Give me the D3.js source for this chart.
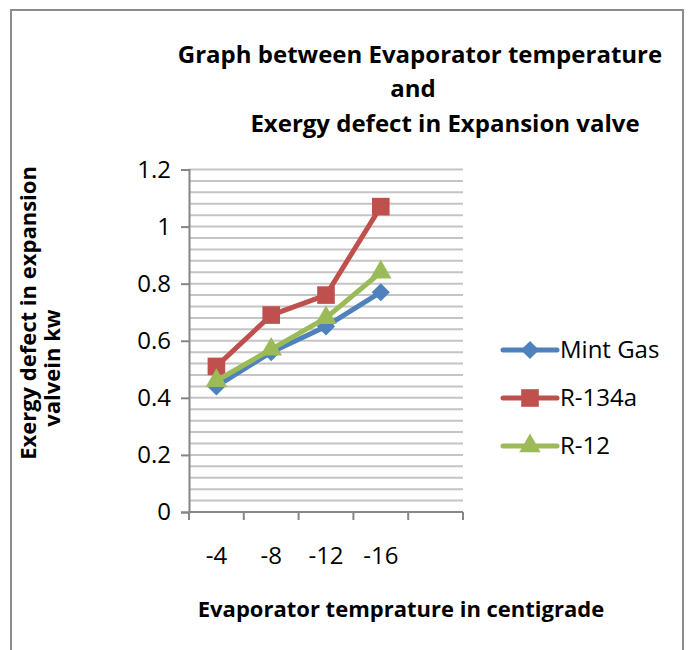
<!DOCTYPE html>
<html>
<head>
<meta charset="utf-8">
<script src="https://cdn.jsdelivr.net/npm/d3@7"></script>
<style>
  body { margin: 0; background: #fff; }
  text { font-family: "Open Sans", "Liberation Sans", sans-serif; fill: #000; }
</style>
</head>
<body>
<div id="chart"></div>
<script>
// chart data
const categories = ["-4", "-8", "-12", "-16", ""];
const seriesNames = ["Mint Gas", "R-134a", "R-12"];
const mintGas = [0.44, 0.56, 0.65, 0.77];
const r134a = [0.51, 0.69, 0.76, 1.07];
const r12 = [0.46, 0.57, 0.68, 0.84];
const yTicks = [0, 0.2, 0.4, 0.6, 0.8, 1, 1.2];

const colors = ["#4f81bd", "#c0504d", "#9bbb59"];
// diamond = square turned 45 degrees, like excel's marker
const markers = [
  { type: d3.symbolSquare, size: 165, rot: 45 },
  { type: d3.symbolSquare, size: 310, rot: 0 },
  { type: d3.symbolTriangle, size: 200, rot: 0 }
];

const W = 690, H = 650;
const svg = d3.select("#chart").append("svg")
  .attr("width", W).attr("height", H);

// outer frame
svg.append("rect")
  .attr("x", 11).attr("y", 10)
  .attr("width", 672).attr("height", 660)
  .attr("fill", "#fff").attr("stroke", "#8c8c8c").attr("stroke-width", 2);

// plot area
const plotL = 189, plotR = 463, plotT = 169.5, plotB = 512;

const x = d3.scaleBand().domain(categories).range([plotL, plotR]);
const y = d3.scaleLinear().domain([0, 1.2]).range([plotB, plotT]);

// minor gridlines every 0.04
const gridVals = d3.range(1, 31).map(i => i * 0.04);
svg.append("g").selectAll("line").data(gridVals).join("line")
  .attr("x1", plotL).attr("x2", plotR)
  .attr("y1", d => y(d)).attr("y2", d => y(d))
  .attr("stroke", "#c4c4c4").attr("stroke-width", 2);

// y axis
const yAxis = svg.append("g")
  .attr("transform", `translate(${plotL},0)`)
  .call(d3.axisLeft(y).tickValues(yTicks).tickSize(8).tickPadding(10)
    .tickFormat(d => String(+d.toFixed(1))));
yAxis.select(".domain").attr("stroke", "#868686").attr("stroke-width", 2);
yAxis.selectAll(".tick line").attr("stroke", "#868686").attr("stroke-width", 2);
yAxis.selectAll(".tick text").attr("font-size", 24)
  .style("font-family", "'Open Sans', sans-serif").attr("fill", "#000");

// x axis (ticks between categories)
const xAxisG = svg.append("g").attr("transform", `translate(0,${plotB})`);
xAxisG.append("line")
  .attr("x1", plotL).attr("x2", plotR)
  .attr("stroke", "#868686").attr("stroke-width", 2);
const boundaries = categories.map(c => x(c)).concat([plotR]);
xAxisG.selectAll("line.tk").data(boundaries).join("line")
  .attr("class", "tk")
  .attr("x1", d => d).attr("x2", d => d)
  .attr("y1", 0).attr("y2", 8)
  .attr("stroke", "#868686").attr("stroke-width", 2);
xAxisG.selectAll("text").data(categories).join("text")
  .attr("x", d => x(d) + x.bandwidth() / 2)
  .attr("y", 52)
  .attr("text-anchor", "middle")
  .attr("font-size", 24)
  .text(d => d);

// series
const allSeries = [mintGas, r134a, r12];
const line = d3.line()
  .x((d, i) => x(categories[i]) + x.bandwidth() / 2)
  .y(d => y(d));

allSeries.forEach((vals, s) => {
  const m = markers[s];
  svg.append("path")
    .datum(vals)
    .attr("d", line)
    .attr("fill", "none")
    .attr("stroke", colors[s])
    .attr("stroke-width", 5)
    .attr("stroke-linejoin", "round");
  svg.append("g").selectAll("path").data(vals).join("path")
    .attr("transform", (d, i) => `translate(${x(categories[i]) + x.bandwidth() / 2},${y(d)}) rotate(${m.rot})`)
    .attr("d", d3.symbol().type(m.type).size(m.size))
    .attr("fill", colors[s]);
});

// legend
const legendY = [350, 398, 446];
seriesNames.forEach((name, s) => {
  const m = markers[s];
  const g = svg.append("g").attr("transform", `translate(0,${legendY[s]})`);
  g.append("line").attr("x1", 503).attr("x2", 557)
    .attr("stroke", colors[s]).attr("stroke-width", 5).attr("stroke-linecap", "round");
  g.append("path").attr("transform", `translate(530,0) rotate(${m.rot})`)
    .attr("d", d3.symbol().type(m.type).size(m.size))
    .attr("fill", colors[s]);
  g.append("text").attr("x", 560).attr("y", 8)
    .attr("font-size", 24).text(name);
});

// titles
const title = svg.append("g").attr("font-weight", "bold").attr("font-size", 24);
title.append("text").attr("x", 420).attr("y", 63).attr("text-anchor", "middle")
  .text("Graph between Evaporator temperature");
title.append("text").attr("x", 413).attr("y", 97).attr("text-anchor", "middle")
  .text("and");
title.append("text").attr("x", 445).attr("y", 132).attr("text-anchor", "middle")
  .text("Exergy defect in Expansion valve");

svg.append("text")
  .attr("x", 401).attr("y", 617)
  .attr("text-anchor", "middle")
  .attr("font-weight", "bold").attr("font-size", 22)
  .text("Evaporator temprature in centigrade");

const yt = svg.append("g").attr("font-weight", "bold").attr("font-size", 22);
yt.append("text")
  .attr("transform", "translate(36,313) rotate(-90)")
  .attr("text-anchor", "middle")
  .text("Exergy defect in expansion");
yt.append("text")
  .attr("transform", "translate(60,368) rotate(-90)")
  .attr("text-anchor", "middle")
  .text("valvein kw");
</script>
</body>
</html>
